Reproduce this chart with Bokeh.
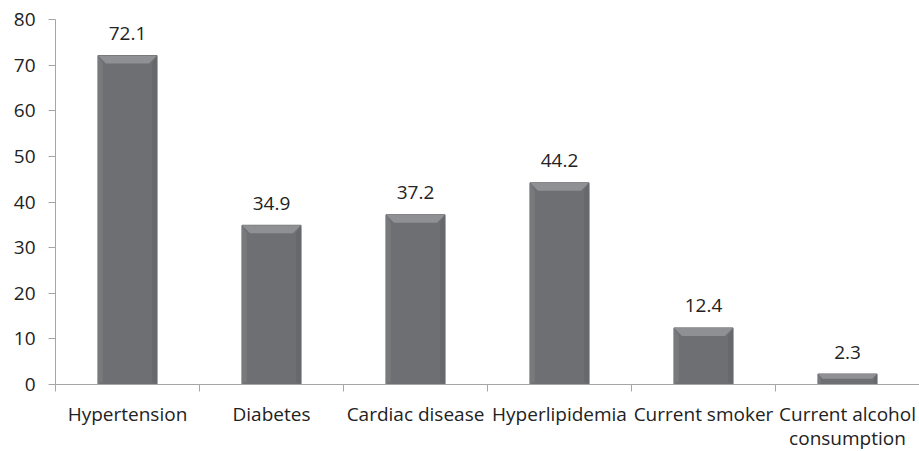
from bokeh.plotting import figure
from bokeh.models import FixedTicker, ColumnDataSource, Range1d
from bokeh.core.properties import value
from bokeh.embed import file_html
from bokeh.resources import INLINE

categories = ["Hypertension", "Diabetes", "Cardiac disease", "Hyperlipidemia",
              "Current smoker", "Current alcohol\nconsumption"]
values = [72.1, 34.9, 37.2, 44.2, 12.4, 2.3]
y_ticks = [0, 10, 20, 30, 40, 50, 60, 70, 80]

FONT = "Open Sans"
LEFT, TOP = 55, 19
frame_w, frame_h = 864, 365

p = figure(frame_width=frame_w, frame_height=frame_h, output_backend="svg",
           toolbar_location=None,
           x_range=Range1d(0, len(categories)), y_range=Range1d(0, 80),
           min_border_left=LEFT, min_border_right=0,
           min_border_top=TOP, min_border_bottom=20)
p.outline_line_color = None
p.grid.visible = False
p.background_fill_color = "white"
p.border_fill_color = "white"

xs = [i + 0.5 for i in range(len(categories))]
bw = 0.41
src = ColumnDataSource(dict(x=xs, top=values, label=[f"{v:.1f}" for v in values]))

# main bar
p.vbar(x="x", top="top", bottom=0, width=bw, source=src,
       fill_color="#6e6f72", line_color="#5e5f62", line_width=1)

# bevel (top and sides) derived from data and scale
ppu_x = frame_w / len(categories)
ppu_y = frame_h / 80.0
bev_px = 8
dy = bev_px / ppu_y
top_x, top_y, left_x, left_y, right_x, right_y = [], [], [], [], [], []
for x, v in zip(xs, values):
    d = min(dy, v * 0.45)
    dd = d * ppu_y / ppu_x
    x0, x1 = x - bw / 2, x + bw / 2
    top_x.append([x0, x1, x1 - dd, x0 + dd])
    top_y.append([v, v, v - d, v - d])
    left_x.append([x0, x0 + dd * 0.6, x0 + dd * 0.6, x0])
    left_y.append([v, v - d, d * 0.3, 0])
    right_x.append([x1, x1 - dd * 0.6, x1 - dd * 0.6, x1])
    right_y.append([v, v - d, d * 0.3, 0])
p.patches(left_x, left_y, fill_color="#78797c", line_color=None)
p.patches(right_x, right_y, fill_color="#67686b", line_color=None)
p.patches(top_x, top_y, fill_color="#8f9093", line_color=None)

p.text(x="x", y="top", text="label", source=src, text_align="center",
       text_baseline="alphabetic", y_offset=-22, text_font=value(FONT),
       text_font_size="19px", text_color="#222222")

axis_col = "#a6a6a6"
# y axis
ya = p.yaxis[0]
ya.ticker = FixedTicker(ticks=y_ticks)
ya.axis_line_color = axis_col
ya.major_tick_line_color = axis_col
ya.major_tick_out = 7
ya.major_tick_in = 0
ya.minor_tick_line_color = None
ya.major_label_standoff = 13
ya.major_label_text_font = FONT
ya.major_label_text_font_size = "19px"
ya.major_label_text_color = "#222222"

# x axis
xa = p.xaxis[0]
xa.ticker = FixedTicker(ticks=xs, minor_ticks=list(range(len(categories) + 1)))
xa.major_label_overrides = {x: c for x, c in zip(xs, categories)}
xa.axis_line_color = axis_col
xa.major_tick_line_color = None
xa.major_tick_out = 0
xa.major_tick_in = 0
xa.minor_tick_line_color = axis_col
xa.minor_tick_out = 7
xa.minor_tick_in = 0
xa.major_label_standoff = 9
xa.major_label_text_font = FONT
xa.major_label_text_font_size = "19px"
xa.major_label_text_color = "#222222"
xa.major_label_text_line_height = 0.93

open("out.html", "w").write(file_html(p, INLINE))
